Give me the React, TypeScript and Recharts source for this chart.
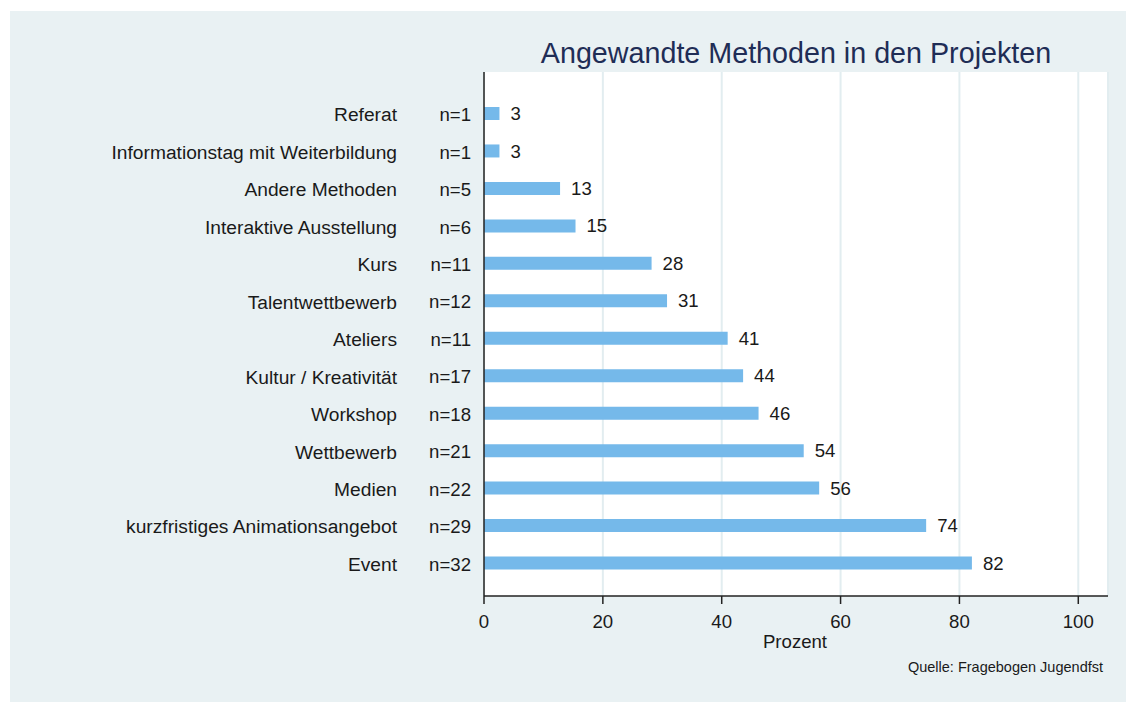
import { BarChart, Bar, XAxis, YAxis, CartesianGrid, LabelList } from 'recharts';

// Methods, top to bottom
const methods = [
  'Referat',
  'Informationstag mit Weiterbildung',
  'Andere Methoden',
  'Interaktive Ausstellung',
  'Kurs',
  'Talentwettbewerb',
  'Ateliers',
  'Kultur / Kreativität',
  'Workshop',
  'Wettbewerb',
  'Medien',
  'kurzfristiges Animationsangebot',
  'Event',
];

const counts = ['n=1', 'n=1', 'n=5', 'n=6', 'n=11', 'n=12', 'n=11', 'n=17', 'n=18', 'n=21', 'n=22', 'n=29', 'n=32'];

// percent values (bars), labels show them rounded
const percents = [2.6, 2.6, 12.8, 15.4, 28.2, 30.8, 41.0, 43.6, 46.2, 53.8, 56.4, 74.4, 82.1];

const xTicks = [0, 20, 40, 60, 80, 100];

const data = methods.map((name, i) => ({ name, n: counts[i], value: percents[i] }));

const FONT = '"Liberation Sans", Arial, Helvetica, sans-serif';
const TEXT = '#1a1a1a';

const MethodTick = (props: any) => {
  const { y, payload } = props;
  const row = data[payload.index];
  return (
    <g>
      <text x={397} y={y} dy="0.4em" textAnchor="end" fill={TEXT} fontSize={19.2} fontFamily={FONT}>
        {payload.value}
      </text>
      <text x={471} y={y} dy="0.4em" textAnchor="end" fill={TEXT} fontSize={18.6} fontFamily={FONT}>
        {row ? row.n : ''}
      </text>
    </g>
  );
};

export default function App() {
  return (
    <div style={{ position: 'absolute', left: 0, top: 0, width: 1126, height: 702, background: '#fff', overflow: 'hidden' }}>
      <div style={{ position: 'absolute', left: 10, top: 11, width: 1116, height: 691, background: '#e9f1f3' }} />
      <div style={{ position: 'absolute', left: 0, top: 0 }}>
        <BarChart
          width={1126}
          height={702}
          data={data}
          layout="vertical"
          margin={{ top: 72, right: 18, bottom: 46, left: 0 }}
          barSize={13}
        >
          <CartesianGrid horizontal={false} stroke="#e2edf0" strokeWidth={2} fill="#ffffff" />
          <XAxis
            type="number"
            domain={[0, 105]}
            ticks={xTicks}
            allowDataOverflow
            height={60}
            tickSize={8}
            tickMargin={11}
            axisLine={{ stroke: '#222', strokeWidth: 1.5 }}
            tickLine={{ stroke: '#222', strokeWidth: 1.5 }}
            tick={{ fill: TEXT, fontSize: 18.6, fontFamily: FONT }}
          />
          <YAxis
            type="category"
            dataKey="name"
            width={484}
            padding={{ top: 23, bottom: 14 }}
            tickLine={false}
            axisLine={{ stroke: '#222', strokeWidth: 1.5 }}
            tick={<MethodTick />}
            interval={0}
          />
          <Bar dataKey="value" fill="#75b9ea" isAnimationActive={false}>
            <LabelList
              dataKey="value"
              position="right"
              offset={11}
              formatter={(v: any) => Math.round(Number(v))}
              fill={TEXT}
              fontSize={18.6}
              fontFamily={FONT}
            />
          </Bar>
        </BarChart>
      </div>
      <svg width={1126} height={702} style={{ position: 'absolute', left: 0, top: 0, pointerEvents: 'none' }}>
        <text x={796} y={63} textAnchor="middle" fill="#1f2d56" fontSize={28.7} fontFamily={FONT}>
          Angewandte Methoden in den Projekten
        </text>
        <text x={795} y={648} textAnchor="middle" fill={TEXT} fontSize={18.6} fontFamily={FONT}>
          Prozent
        </text>
        <text x={1103} y={672} textAnchor="end" fill={TEXT} fontSize={14.5} fontFamily={FONT}>
          Quelle: Fragebogen Jugendfst
        </text>
      </svg>
    </div>
  );
}
